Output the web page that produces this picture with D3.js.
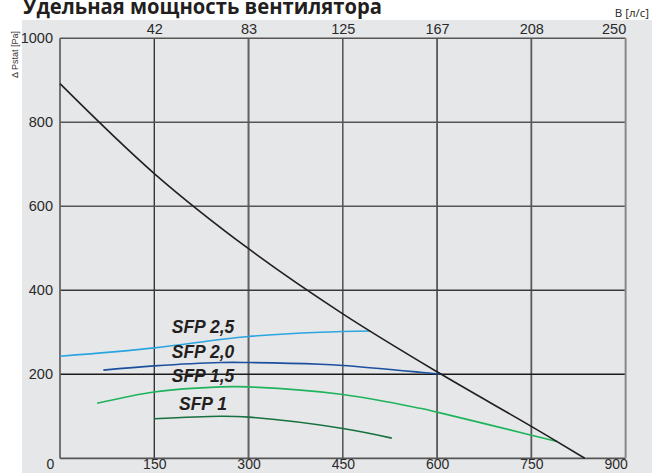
<!DOCTYPE html>
<html>
<head>
<meta charset="utf-8">
<script src="https://cdn.jsdelivr.net/npm/d3@7/dist/d3.min.js"></script>
<style>
  html, body { margin: 0; padding: 0; background: #ffffff; }
  svg { display: block; }
</style>
</head>
<body>
<svg id="chart" width="652" height="473"></svg>
<script>
// Fan specific power chart: static pressure vs. air flow
const flowTicks = [0, 150, 300, 450, 600, 750, 900];          // m³/h
const litreTicks = [150, 300, 450, 600, 750, 900];            // same flow positions
const litreLabels = ["42", "83", "125", "167", "208", "250"]; // l/s
const pressureTicks = [200, 400, 600, 800, 1000];             // Pa

// System (duct) characteristic
const systemFlow = [0, 150, 300, 450, 600, 750, 835];
const systemPressure = [892, 678, 499, 344, 206, 76, 0];

// SFP iso-lines
const sfp25Flow = [0, 150, 255, 300, 414, 494];
const sfp25Pressure = [243, 263, 283, 290, 300, 303];
const sfp20Flow = [69, 150, 255, 300, 414, 450, 573, 608];
const sfp20Pressure = [210, 220, 228, 228, 224, 221, 205, 200];
const sfp15Flow = [59, 150, 255, 300, 450, 573, 600, 750, 791];
const sfp15Pressure = [131, 158, 170, 170, 152, 119, 110, 55, 40];
const sfp10Flow = [150, 255, 300, 450, 528];
const sfp10Pressure = [94, 100, 98, 71, 48];

const sfpNames = ["SFP 2,5", "SFP 2,0", "SFP 1,5", "SFP 1"];

const svg = d3.select("#chart");
const W = 652, H = 473;

// Grey panel
svg.append("rect").attr("x", 22).attr("y", 20).attr("width", W - 22).attr("height", H - 20)
  .attr("fill", "#e6e7e9");

const x = d3.scaleLinear().domain([0, 900]).range([60, 625.6]);
const y = d3.scaleLinear().domain([0, 1000]).range([458.3, 38.3]);

const tickFont = "'Liberation Sans', Arial, sans-serif";

// Vertical grid lines
const vStyle = { 150: ["#1a1a1a", 1.2], 300: ["#606060", 2], 450: ["#5a5a5a", 1.6], 600: ["#2e2e2e", 1.4], 750: ["#5a5a5a", 1.8] };
svg.append("g").selectAll("line").data(flowTicks.filter(d => d > 0 && d < 900)).join("line")
  .attr("x1", d => x(d)).attr("x2", d => x(d))
  .attr("y1", y(1000)).attr("y2", y(0))
  .attr("stroke", d => vStyle[d][0]).attr("stroke-width", d => vStyle[d][1]);

// Horizontal grid lines
const hStyle = { 200: ["#1a1a1a", 1.4], 400: ["#3a3a3a", 1.4], 600: ["#555", 1.5], 800: ["#555", 1.5], 1000: ["#555", 1.5] };
svg.append("g").selectAll("line").data(pressureTicks).join("line")
  .attr("x1", x(0)).attr("x2", x(900))
  .attr("y1", d => y(d)).attr("y2", d => y(d))
  .attr("stroke", d => hStyle[d][0]).attr("stroke-width", d => hStyle[d][1]);

// Frame: left, bottom, right
svg.append("line").attr("x1", x(0)).attr("x2", x(0)).attr("y1", y(1000)).attr("y2", y(0))
  .attr("stroke", "#666").attr("stroke-width", 1.8);
svg.append("line").attr("x1", x(0)).attr("x2", x(900)).attr("y1", y(0)).attr("y2", y(0))
  .attr("stroke", "#555").attr("stroke-width", 1.8);
svg.append("line").attr("x1", x(900)).attr("x2", x(900)).attr("y1", y(1000)).attr("y2", y(0))
  .attr("stroke", "#888").attr("stroke-width", 2);

// Axes (labels only)
const bottomAxis = svg.append("g").attr("transform", `translate(0,${y(0)})`)
  .call(d3.axisBottom(x).tickValues(flowTicks).tickSize(0).tickPadding(1).tickFormat(d3.format("d")));
const topAxis = svg.append("g").attr("transform", `translate(0,${y(1000)})`)
  .call(d3.axisTop(x).tickValues(litreTicks).tickSize(0).tickPadding(4)
    .tickFormat((d, i) => litreLabels[i]));
const leftAxis = svg.append("g").attr("transform", `translate(${x(0)},0)`)
  .call(d3.axisLeft(y).tickValues(pressureTicks).tickSize(0).tickPadding(7).tickFormat(d3.format("d")));

[topAxis, leftAxis].forEach(g => {
  g.select(".domain").remove();
  g.selectAll("text").attr("font-family", tickFont).attr("font-size", 14.5).attr("fill", "#2a2a2a");
});
bottomAxis.select(".domain").remove();
bottomAxis.selectAll("text").attr("font-family", tickFont).attr("font-size", 14).attr("fill", "#2a2a2a");
// End labels pulled inward to sit inside the panel
bottomAxis.selectAll(".tick").filter(d => d === 0).select("text").attr("dx", -10);
bottomAxis.selectAll(".tick").filter(d => d === 900).select("text").attr("dx", -10);
topAxis.selectAll(".tick").filter(d => d === 900).select("text").attr("dx", -12);

// Curves
const line = d3.line().x(d => x(d[0])).y(d => y(d[1])).curve(d3.curveCatmullRom.alpha(0.5));
const zip = (a, b) => a.map((v, i) => [v, b[i]]);

const series = [
  { pts: zip(sfp25Flow, sfp25Pressure), color: "#2ba4e0" },
  { pts: zip(sfp20Flow, sfp20Pressure), color: "#1d4f9f" },
  { pts: zip(sfp15Flow, sfp15Pressure), color: "#1fb35b" },
  { pts: zip(sfp10Flow, sfp10Pressure), color: "#17703f" },
  { pts: zip(systemFlow, systemPressure), color: "#231f20" }
];
svg.append("g").selectAll("path").data(series).join("path")
  .attr("d", d => line(d.pts))
  .attr("fill", "none").attr("stroke", d => d.color).attr("stroke-width", 1.6);

// SFP labels
const labelBaselines = [333, 358, 381.5, 410];
svg.append("g").selectAll("text").data(sfpNames).join("text")
  .attr("x", 203).attr("y", (d, i) => labelBaselines[i])
  .attr("text-anchor", "middle")
  .attr("font-family", tickFont).attr("font-weight", "bold").attr("font-style", "italic")
  .attr("font-size", 17.5).attr("fill", "#231f20")
  .text(d => d);

// Title
svg.append("text").attr("x", 23).attr("y", 13.5)
  .attr("font-family", "'Open Sans', sans-serif").attr("font-weight", "bold")
  .attr("font-size", 21.5).attr("fill", "#231f20")
  .attr("textLength", 359).attr("lengthAdjust", "spacingAndGlyphs")
  .text("Удельная мощность вентилятора");

// Unit of top axis
svg.append("text").attr("x", 649).attr("y", 16.5).attr("text-anchor", "end")
  .attr("font-family", "'Open Sans', sans-serif").attr("font-size", 11.5).attr("fill", "#231f20")
  .text("В [л/с]");

// Y axis title
svg.append("text").attr("transform", "translate(18,78) rotate(-90)")
  .attr("font-family", tickFont).attr("font-size", 9).attr("fill", "#333")
  .text("Δ Pstat [Pa]");
</script>
</body>
</html>
